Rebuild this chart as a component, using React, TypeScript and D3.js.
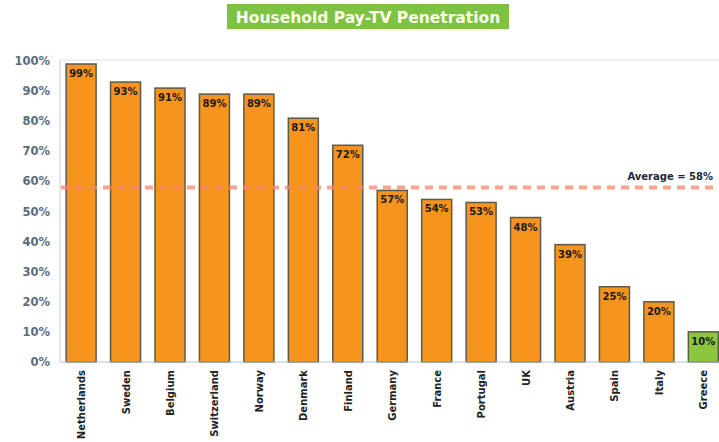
import React from "react";
import * as d3 from "d3";

const countries = ["Netherlands","Sweden","Belgium","Switzerland","Norway","Denmark","Finland","Germany","France","Portugal","UK","Austria","Spain","Italy","Greece"];
const values = [99,93,91,89,89,81,72,57,54,53,48,39,25,20,10];
const yTicks = [0,10,20,30,40,50,60,70,80,90,100];
const average = 58;
const highlight = "Greece";

const W = 719, H = 442;
const left = 59, top = 61, bottom = 362;

export default function App() {
  const x = d3.scaleBand<string>().domain(countries).range([left, left + 15 * 44.43]).paddingInner(0.325).paddingOuter(0.16);
  const y = d3.scaleLinear().domain([0, 100]).range([bottom, top]);
  const font = "'DejaVu Sans', Verdana, sans-serif";
  return (
    <svg width={W} height={H} style={{ position: "absolute", left: 0, top: 0, background: "#fff" }} fontFamily={font}>
      <rect x={227} y={4} width={282} height={25} fill="#7dc242" />
      <text x={368} y={22.5} textAnchor="middle" fontSize={15.5} fontWeight="bold" fill="#fffde8">Household Pay-TV Penetration</text>
      <line x1={left + 1} x2={W} y1={top - 1} y2={top - 1} stroke="#dde3ea" strokeWidth={1} />
      <line x1={left + 1} x2={left + 1} y1={top - 1} y2={bottom} stroke="#d0d8e0" strokeWidth={1.2} />
      {yTicks.map(t => (
        <text key={t} x={50} y={y(t) + 4} textAnchor="end" fontSize={11.5} fontWeight="bold" fill="#5b6b7c">{t}%</text>
      ))}
      {countries.map((c, i) => {
        const v = values[i];
        const bx = x(c)!;
        return (
          <g key={c}>
            <rect x={bx} y={y(v)} width={x.bandwidth()} height={bottom - y(v)} fill={c === highlight ? "#8cc63e" : "#f7941d"} stroke="#5a5a4a" strokeWidth={1.5} />
            <text x={bx + x.bandwidth() / 2} y={y(v) + 13} textAnchor="middle" fontSize={10} fontWeight="bold" fill="#1a1a1a">{v}%</text>
            <text transform={`translate(${bx + x.bandwidth() / 2 + 4},370) rotate(-90)`} textAnchor="end" fontSize={10} fontWeight="bold" fill="#222">{c}</text>
          </g>
        );
      })}
      <line x1={left + 1} x2={W} y1={bottom} y2={bottom} stroke="#b8c4d0" strokeWidth={1.2} />
      <line x1={left + 2} x2={W} y1={y(average)} y2={y(average)} stroke="#f4876a" strokeOpacity={0.75} strokeWidth={4} strokeDasharray="8,6" />
      <text x={713} y={y(average) - 7} textAnchor="end" fontSize={10} fontWeight="bold" fill="#1a2a3a">Average = {average}%</text>
    </svg>
  );
}
